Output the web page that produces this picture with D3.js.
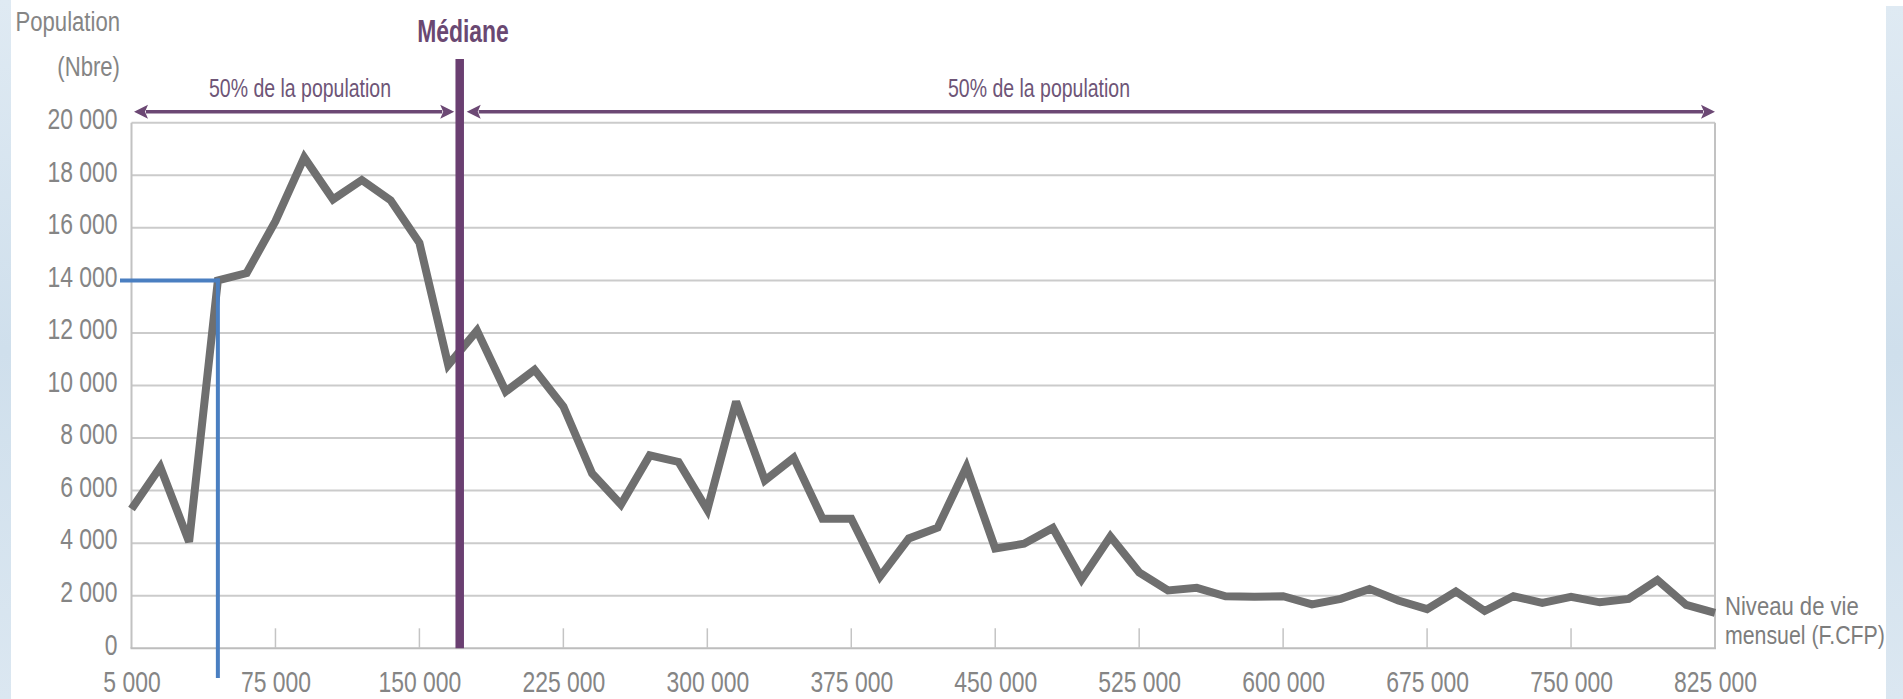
<!DOCTYPE html>
<html>
<head>
<meta charset="utf-8">
<script src="https://cdn.jsdelivr.net/npm/d3@7/dist/d3.min.js"></script>
<style>
  html, body { margin: 0; padding: 0; background: #ffffff; }
  svg { display: block; }
  text { font-family: "Liberation Sans", Arial, sans-serif; }
</style>
</head>
<body>
<svg id="chart" width="1903" height="699"></svg>
<script>
// ---- Data ----
const categories = [0, 15000, 30000, 45000, 60000, 75000, 90000, 105000, 120000, 135000,
  150000, 165000, 180000, 195000, 210000, 225000, 240000, 255000, 270000, 285000,
  300000, 315000, 330000, 345000, 360000, 375000, 390000, 405000, 420000, 435000,
  450000, 465000, 480000, 495000, 510000, 525000, 540000, 555000, 570000, 585000,
  600000, 615000, 630000, 645000, 660000, 675000, 690000, 705000, 720000, 735000,
  750000, 765000, 780000, 795000, 810000, 825000];
const population = [5300, 6900, 4050, 14000, 14280, 16250, 18680, 17080, 17820, 17050,
  15430, 10780, 12090, 9770, 10600, 9200, 6650, 5470, 7340, 7090,
  5270, 9390, 6390, 7250, 4930, 4930, 2730, 4180, 4590, 6900,
  3800, 3980, 4580, 2620, 4250, 2890, 2200, 2300, 1980, 1960,
  1980, 1670, 1880, 2260, 1820, 1490, 2160, 1420, 1980, 1730,
  1960, 1750, 1880, 2600, 1650, 1350];
const xTickValues = [0, 75000, 150000, 225000, 300000, 375000, 450000, 525000, 600000, 675000, 750000, 825000];
const xTickLabels = ["5 000", "75 000", "150 000", "225 000", "300 000", "375 000", "450 000", "525 000", "600 000", "675 000", "750 000", "825 000"];
const yTickValues = [0, 2000, 4000, 6000, 8000, 10000, 12000, 14000, 16000, 18000, 20000];
const medianValue = 171000;
const markerCategory = 45000;
const markerValue = 14000;

// ---- Layout ----
const W = 1903, H = 699;
const pLeft = 131.5, pRight = 1715, pTop = 122.7, pBottom = 648.3;

const svg = d3.select("#chart");

// condensed look: scale text horizontally around its anchor
function condense(sel, sx) {
  sel.each(function () {
    const t = d3.select(this);
    const x0 = +(t.attr("x") || 0);
    t.attr("x", x0 / sx).attr("transform", `scale(${sx},1)`);
  });
  return sel;
}

// background side strips
const defs = svg.append("defs");
const grad = defs.append("linearGradient").attr("id", "bg").attr("x1", 0).attr("y1", 0).attr("x2", 0).attr("y2", 1);
grad.append("stop").attr("offset", "0%").attr("stop-color", "#dfeaf3");
grad.append("stop").attr("offset", "50%").attr("stop-color", "#cfdfec");
grad.append("stop").attr("offset", "100%").attr("stop-color", "#dbe7f1");
svg.append("rect").attr("x", 0).attr("y", 0).attr("width", 11).attr("height", H).attr("fill", "url(#bg)");
svg.append("rect").attr("x", 1886).attr("y", 6).attr("width", W - 1886).attr("height", H - 6).attr("fill", "url(#bg)");

const x = d3.scaleLinear().domain([0, 825000]).range([pLeft, pRight]);
const y = d3.scaleLinear().domain([0, 20000]).range([pBottom, pTop]);

const fr = d3.formatLocale({ decimal: ",", thousands: " ", grouping: [3], currency: ["", " F"] });
const fmt = fr.format(",d");
const SX = 0.79;
const GRAYTXT = "#858585";

// gridlines
svg.append("g").selectAll("line").data(yTickValues.filter(d => d > 0)).join("line")
  .attr("x1", pLeft).attr("x2", pRight)
  .attr("y1", d => y(d)).attr("y2", d => y(d))
  .attr("stroke", "#cbcbcb").attr("stroke-width", 2);

// frame (left, right, bottom)
svg.append("line").attr("x1", pLeft).attr("x2", pLeft).attr("y1", pTop).attr("y2", pBottom)
  .attr("stroke", "#c2c2c2").attr("stroke-width", 2);
svg.append("line").attr("x1", pRight).attr("x2", pRight).attr("y1", pTop).attr("y2", pBottom)
  .attr("stroke", "#c2c2c2").attr("stroke-width", 2);
svg.append("line").attr("x1", pLeft - 1).attr("x2", pRight + 1).attr("y1", pBottom).attr("y2", pBottom)
  .attr("stroke", "#bdbdbd").attr("stroke-width", 2);

// inner x ticks
svg.append("g").selectAll("line").data(xTickValues.filter(d => d > 0 && d < 825000)).join("line")
  .attr("x1", d => x(d)).attr("x2", d => x(d))
  .attr("y1", pBottom).attr("y2", pBottom - 20)
  .attr("stroke", "#c4c4c4").attr("stroke-width", 1.5);

// y axis
const yAxis = svg.append("g").attr("transform", `translate(${pLeft},0)`)
  .call(d3.axisLeft(y).tickValues(yTickValues).tickSize(0).tickPadding(14).tickFormat(fmt));
yAxis.select(".domain").remove();
condense(yAxis.selectAll("text").attr("font-size", 29).attr("fill", GRAYTXT).attr("dy", "0.2em")
  .style("font-family", "'Liberation Sans', Arial, sans-serif"), SX);

// x axis
const xAxis = svg.append("g").attr("transform", `translate(0,${pBottom})`)
  .call(d3.axisBottom(x).tickValues(xTickValues).tickSize(0).tickPadding(23)
    .tickFormat((d, i) => xTickLabels[i]));
xAxis.select(".domain").remove();
condense(xAxis.selectAll("text").attr("font-size", 29).attr("fill", GRAYTXT)
  .style("font-family", "'Liberation Sans', Arial, sans-serif"), SX);

// data line
const line = d3.line().x((d, i) => x(categories[i])).y(d => y(d));
svg.append("path").datum(population)
  .attr("d", line)
  .attr("fill", "none")
  .attr("stroke", "#6f6f6f")
  .attr("stroke-width", 8)
  .attr("stroke-linejoin", "miter")
  .attr("stroke-miterlimit", 3);

// median line
const mx = x(medianValue);
svg.append("line").attr("x1", mx).attr("x2", mx).attr("y1", 59).attr("y2", pBottom)
  .attr("stroke", "#6a3f71").attr("stroke-width", 8.5);

// arrows
const purple = "#6c4874";
const ay = 111.7;
function arrow(x1, x2) {
  const g = svg.append("g");
  const hl = 14, hw = 7;
  g.append("line").attr("x1", x1 + hl - 2).attr("x2", x2 - hl + 2).attr("y1", ay).attr("y2", ay)
    .attr("stroke", purple).attr("stroke-width", 3.6);
  g.append("path").attr("d", `M${x1},${ay} L${x1 + hl},${ay - hw} L${x1 + hl - 3},${ay} L${x1 + hl},${ay + hw} Z`).attr("fill", purple);
  g.append("path").attr("d", `M${x2},${ay} L${x2 - hl},${ay - hw} L${x2 - hl + 3},${ay} L${x2 - hl},${ay + hw} Z`).attr("fill", purple);
}
arrow(x(0) + 2.5, mx - 5.5);
arrow(mx + 7, x(825000));

// texts
condense(svg.append("text").attr("x", 463).attr("y", 42).attr("text-anchor", "middle")
  .attr("font-size", 31).attr("font-weight", "bold").attr("fill", "#6a4872").text("Médiane"), 0.74);
condense(svg.append("text").attr("x", 300).attr("y", 97).attr("text-anchor", "middle")
  .attr("font-size", 25).attr("fill", "#6e5577").text("50% de la population"), 0.78);
condense(svg.append("text").attr("x", 1039).attr("y", 97).attr("text-anchor", "middle")
  .attr("font-size", 25).attr("fill", "#6e5577").text("50% de la population"), 0.78);
condense(svg.append("text").attr("x", 120).attr("y", 31).attr("text-anchor", "end")
  .attr("font-size", 28).attr("fill", GRAYTXT).text("Population"), SX);
condense(svg.append("text").attr("x", 120).attr("y", 76).attr("text-anchor", "end")
  .attr("font-size", 28).attr("fill", GRAYTXT).text("(Nbre)"), SX);
condense(svg.append("text").attr("x", 1725).attr("y", 615)
  .attr("font-size", 26).attr("fill", "#7d7d7d").text("Niveau de vie"), 0.85);
condense(svg.append("text").attr("x", 1725).attr("y", 644)
  .attr("font-size", 26).attr("fill", "#7d7d7d").text("mensuel (F.CFP)"), 0.82);

// blue marker lines
const bx = x(markerCategory), by = y(markerValue);
svg.append("line").attr("x1", 120).attr("x2", bx + 2).attr("y1", by).attr("y2", by)
  .attr("stroke", "#4a7fc1").attr("stroke-width", 4);
svg.append("line").attr("x1", bx).attr("x2", bx).attr("y1", by - 2).attr("y2", 678)
  .attr("stroke", "#4a7fc1").attr("stroke-width", 4);
</script>
</body>
</html>
